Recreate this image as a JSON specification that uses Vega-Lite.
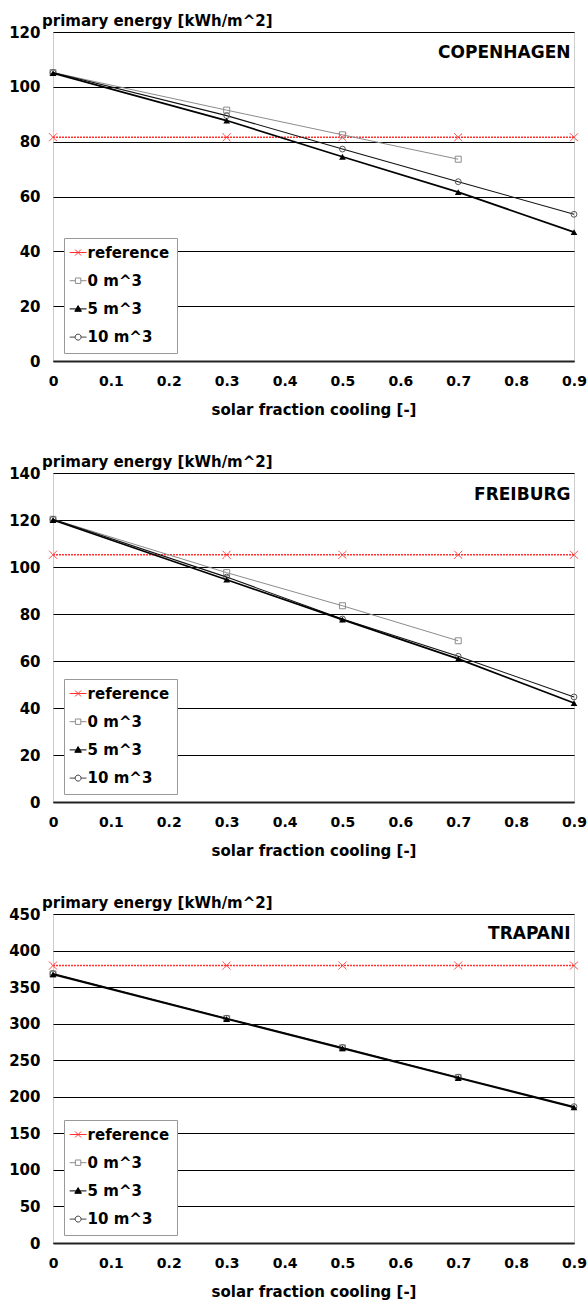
{
  "$schema": "https://vega.github.io/schema/vega-lite/v6.json",
  "autosize": {"type": "pad"},
  "padding": {"left": 8, "top": 12, "right": 0, "bottom": 5},
  "background": "white",
  "bounds": "flush",
  "spacing": 112,
  "datasets": {
    "copenhagen": [
      {"fraction": 0, "energy": 81.6, "series": "reference"},
      {"fraction": 0.3, "energy": 81.6, "series": "reference"},
      {"fraction": 0.5, "energy": 81.6, "series": "reference"},
      {"fraction": 0.7, "energy": 81.6, "series": "reference"},
      {"fraction": 0.9, "energy": 81.6, "series": "reference"},
      {"fraction": 0, "energy": 105.2, "series": "0 m^3"},
      {"fraction": 0.3, "energy": 91.5, "series": "0 m^3"},
      {"fraction": 0.5, "energy": 82.5, "series": "0 m^3"},
      {"fraction": 0.7, "energy": 73.6, "series": "0 m^3"},
      {"fraction": 0, "energy": 105.0, "series": "5 m^3"},
      {"fraction": 0.3, "energy": 87.7, "series": "5 m^3"},
      {"fraction": 0.5, "energy": 74.5, "series": "5 m^3"},
      {"fraction": 0.7, "energy": 61.6, "series": "5 m^3"},
      {"fraction": 0.9, "energy": 47.0, "series": "5 m^3"},
      {"fraction": 0, "energy": 105.2, "series": "10 m^3"},
      {"fraction": 0.3, "energy": 89.5, "series": "10 m^3"},
      {"fraction": 0.5, "energy": 77.3, "series": "10 m^3"},
      {"fraction": 0.7, "energy": 65.4, "series": "10 m^3"},
      {"fraction": 0.9, "energy": 53.5, "series": "10 m^3"}
    ],
    "freiburg": [
      {"fraction": 0, "energy": 105.2, "series": "reference"},
      {"fraction": 0.3, "energy": 105.2, "series": "reference"},
      {"fraction": 0.5, "energy": 105.2, "series": "reference"},
      {"fraction": 0.7, "energy": 105.2, "series": "reference"},
      {"fraction": 0.9, "energy": 105.2, "series": "reference"},
      {"fraction": 0, "energy": 120.3, "series": "0 m^3"},
      {"fraction": 0.3, "energy": 97.6, "series": "0 m^3"},
      {"fraction": 0.5, "energy": 83.5, "series": "0 m^3"},
      {"fraction": 0.7, "energy": 68.6, "series": "0 m^3"},
      {"fraction": 0, "energy": 120.0, "series": "5 m^3"},
      {"fraction": 0.3, "energy": 94.6, "series": "5 m^3"},
      {"fraction": 0.5, "energy": 77.6, "series": "5 m^3"},
      {"fraction": 0.7, "energy": 60.9, "series": "5 m^3"},
      {"fraction": 0.9, "energy": 42.1, "series": "5 m^3"},
      {"fraction": 0, "energy": 120.3, "series": "10 m^3"},
      {"fraction": 0.3, "energy": 95.7, "series": "10 m^3"},
      {"fraction": 0.5, "energy": 77.9, "series": "10 m^3"},
      {"fraction": 0.7, "energy": 62.0, "series": "10 m^3"},
      {"fraction": 0.9, "energy": 44.7, "series": "10 m^3"}
    ],
    "trapani": [
      {"fraction": 0, "energy": 379.5, "series": "reference"},
      {"fraction": 0.3, "energy": 379.5, "series": "reference"},
      {"fraction": 0.5, "energy": 379.5, "series": "reference"},
      {"fraction": 0.7, "energy": 379.5, "series": "reference"},
      {"fraction": 0.9, "energy": 379.5, "series": "reference"},
      {"fraction": 0, "energy": 368.0, "series": "0 m^3"},
      {"fraction": 0.3, "energy": 307.0, "series": "0 m^3"},
      {"fraction": 0.5, "energy": 267.0, "series": "0 m^3"},
      {"fraction": 0.7, "energy": 226.5, "series": "0 m^3"},
      {"fraction": 0, "energy": 367.5, "series": "5 m^3"},
      {"fraction": 0.3, "energy": 306.4, "series": "5 m^3"},
      {"fraction": 0.5, "energy": 266.3, "series": "5 m^3"},
      {"fraction": 0.7, "energy": 225.7, "series": "5 m^3"},
      {"fraction": 0.9, "energy": 185.6, "series": "5 m^3"},
      {"fraction": 0, "energy": 368.5, "series": "10 m^3"},
      {"fraction": 0.3, "energy": 307.5, "series": "10 m^3"},
      {"fraction": 0.5, "energy": 267.3, "series": "10 m^3"},
      {"fraction": 0.7, "energy": 226.7, "series": "10 m^3"},
      {"fraction": 0.9, "energy": 186.5, "series": "10 m^3"}
    ]
  },
  "vconcat": [
    {
      "width": 521, "height": 329,
      "data": {"name": "copenhagen"},
      "encoding": {
        "x": {"field": "fraction", "type": "quantitative", "scale": {"domain": [0, 0.9], "nice": false, "zero": false}, "axis": {"values": [0, 0.1, 0.2, 0.3, 0.4, 0.5, 0.6, 0.7, 0.8, 0.9], "format": "~g", "title": "solar fraction cooling [-]"}},
        "y": {"field": "energy", "type": "quantitative", "scale": {"domain": [0, 120], "nice": false}, "axis": {"values": [0, 20, 40, 60, 80, 100, 120], "title": "primary energy [kWh/m^2]"}}
      },
      "layer": [
        {"transform": [{"filter": "datum.series === 'reference'"}], "mark": {"type": "line", "color": "#ff3030", "strokeWidth": 1.6, "strokeDash": [2, 1], "point": {"shape": "M-1,-1L1,1M-1,1L1,-1", "size": 64, "filled": false, "color": "#ff3030", "strokeWidth": 1, "strokeDash": [1, 0], "opacity": 1}}},
        {"transform": [{"filter": "datum.series === '0 m^3'"}], "mark": {"type": "line", "color": "#8c8c8c", "strokeWidth": 1, "point": {"shape": "square", "size": 36, "filled": false, "color": "#8c8c8c", "strokeWidth": 1, "opacity": 1}}},
        {"transform": [{"filter": "datum.series === '10 m^3'"}], "mark": {"type": "line", "color": "#111111", "strokeWidth": 1.1, "point": {"shape": "circle", "size": 34, "filled": false, "color": "#555555", "strokeWidth": 1, "opacity": 1}}},
        {"transform": [{"filter": "datum.series === '5 m^3'"}], "mark": {"type": "line", "color": "black", "strokeWidth": 1.7, "point": {"shape": "triangle-up", "size": 45, "filled": true, "color": "black", "opacity": 1}}},
        {"transform": [{"filter": "false"}], "mark": {"type": "point", "filled": false, "strokeWidth": 1, "opacity": 1},
          "encoding": {
            "color": {"field": "series", "type": "nominal", "title": null, "scale": {"domain": ["reference", "0 m^3", "5 m^3", "10 m^3"], "range": ["#ff3030", "#8c8c8c", "black", "#444444"]}},
            "shape": {"field": "series", "type": "nominal", "title": null, "scale": {"domain": ["reference", "0 m^3", "5 m^3", "10 m^3"], "range": ["M-2.8,0L2.8,0M-1,-1L1,1M-1,1L1,-1", "M-2.8,0L-0.9,0M0.9,0L2.8,0M-0.9,-0.9L0.9,-0.9L0.9,0.9L-0.9,0.9Z", "M-2.8,0L2.8,0M0,-1.1L1.1,0.8L-1.1,0.8Z", "M-2.8,0L-1,0M1,0L2.8,0M-1,0A1,1,0,1,1,1,0A1,1,0,1,1,-1,0Z"]}},
            "fill": {"field": "series", "type": "nominal", "title": null, "scale": {"domain": ["reference", "0 m^3", "5 m^3", "10 m^3"], "range": ["transparent", "transparent", "black", "transparent"]}}
          }},
        {"transform": [{"filter": "datum.series === 'reference' && datum.fraction === 0.9"}], "mark": {"type": "text", "align": "right", "baseline": "middle", "dx": -3.5, "font": "DejaVu Sans", "fontWeight": "bold", "fontSize": 17, "fill": "black"},
          "encoding": {"y": {"datum": 112.4, "type": "quantitative"}, "text": {"value": "COPENHAGEN"}}}
      ]
    },
    {
      "width": 521, "height": 329,
      "data": {"name": "freiburg"},
      "encoding": {
        "x": {"field": "fraction", "type": "quantitative", "scale": {"domain": [0, 0.9], "nice": false, "zero": false}, "axis": {"values": [0, 0.1, 0.2, 0.3, 0.4, 0.5, 0.6, 0.7, 0.8, 0.9], "format": "~g", "title": "solar fraction cooling [-]"}},
        "y": {"field": "energy", "type": "quantitative", "scale": {"domain": [0, 140], "nice": false}, "axis": {"values": [0, 20, 40, 60, 80, 100, 120, 140], "title": "primary energy [kWh/m^2]"}}
      },
      "layer": [
        {"transform": [{"filter": "datum.series === 'reference'"}], "mark": {"type": "line", "color": "#ff3030", "strokeWidth": 1.6, "strokeDash": [2, 1], "point": {"shape": "M-1,-1L1,1M-1,1L1,-1", "size": 64, "filled": false, "color": "#ff3030", "strokeWidth": 1, "strokeDash": [1, 0], "opacity": 1}}},
        {"transform": [{"filter": "datum.series === '0 m^3'"}], "mark": {"type": "line", "color": "#8c8c8c", "strokeWidth": 1, "point": {"shape": "square", "size": 36, "filled": false, "color": "#8c8c8c", "strokeWidth": 1, "opacity": 1}}},
        {"transform": [{"filter": "datum.series === '10 m^3'"}], "mark": {"type": "line", "color": "#111111", "strokeWidth": 1.1, "point": {"shape": "circle", "size": 34, "filled": false, "color": "#555555", "strokeWidth": 1, "opacity": 1}}},
        {"transform": [{"filter": "datum.series === '5 m^3'"}], "mark": {"type": "line", "color": "black", "strokeWidth": 1.7, "point": {"shape": "triangle-up", "size": 45, "filled": true, "color": "black", "opacity": 1}}},
        {"transform": [{"filter": "false"}], "mark": {"type": "point", "filled": false, "strokeWidth": 1, "opacity": 1},
          "encoding": {
            "color": {"field": "series", "type": "nominal", "title": null, "scale": {"domain": ["reference", "0 m^3", "5 m^3", "10 m^3"], "range": ["#ff3030", "#8c8c8c", "black", "#444444"]}},
            "shape": {"field": "series", "type": "nominal", "title": null, "scale": {"domain": ["reference", "0 m^3", "5 m^3", "10 m^3"], "range": ["M-2.8,0L2.8,0M-1,-1L1,1M-1,1L1,-1", "M-2.8,0L-0.9,0M0.9,0L2.8,0M-0.9,-0.9L0.9,-0.9L0.9,0.9L-0.9,0.9Z", "M-2.8,0L2.8,0M0,-1.1L1.1,0.8L-1.1,0.8Z", "M-2.8,0L-1,0M1,0L2.8,0M-1,0A1,1,0,1,1,1,0A1,1,0,1,1,-1,0Z"]}},
            "fill": {"field": "series", "type": "nominal", "title": null, "scale": {"domain": ["reference", "0 m^3", "5 m^3", "10 m^3"], "range": ["transparent", "transparent", "black", "transparent"]}}
          }},
        {"transform": [{"filter": "datum.series === 'reference' && datum.fraction === 0.9"}], "mark": {"type": "text", "align": "right", "baseline": "middle", "dx": -3.5, "font": "DejaVu Sans", "fontWeight": "bold", "fontSize": 17, "fill": "black"},
          "encoding": {"y": {"datum": 130.8, "type": "quantitative"}, "text": {"value": "FREIBURG"}}}
      ]
    },
    {
      "width": 521, "height": 329,
      "data": {"name": "trapani"},
      "encoding": {
        "x": {"field": "fraction", "type": "quantitative", "scale": {"domain": [0, 0.9], "nice": false, "zero": false}, "axis": {"values": [0, 0.1, 0.2, 0.3, 0.4, 0.5, 0.6, 0.7, 0.8, 0.9], "format": "~g", "title": "solar fraction cooling [-]"}},
        "y": {"field": "energy", "type": "quantitative", "scale": {"domain": [0, 450], "nice": false}, "axis": {"values": [0, 50, 100, 150, 200, 250, 300, 350, 400, 450], "title": "primary energy [kWh/m^2]"}}
      },
      "layer": [
        {"transform": [{"filter": "datum.series === 'reference'"}], "mark": {"type": "line", "color": "#ff3030", "strokeWidth": 1.6, "strokeDash": [2, 1], "point": {"shape": "M-1,-1L1,1M-1,1L1,-1", "size": 64, "filled": false, "color": "#ff3030", "strokeWidth": 1, "strokeDash": [1, 0], "opacity": 1}}},
        {"transform": [{"filter": "datum.series === '0 m^3'"}], "mark": {"type": "line", "color": "#8c8c8c", "strokeWidth": 1, "point": {"shape": "square", "size": 36, "filled": false, "color": "#8c8c8c", "strokeWidth": 1, "opacity": 1}}},
        {"transform": [{"filter": "datum.series === '10 m^3'"}], "mark": {"type": "line", "color": "#111111", "strokeWidth": 1.1, "point": {"shape": "circle", "size": 34, "filled": false, "color": "#555555", "strokeWidth": 1, "opacity": 1}}},
        {"transform": [{"filter": "datum.series === '5 m^3'"}], "mark": {"type": "line", "color": "black", "strokeWidth": 1.7, "point": {"shape": "triangle-up", "size": 45, "filled": true, "color": "black", "opacity": 1}}},
        {"transform": [{"filter": "false"}], "mark": {"type": "point", "filled": false, "strokeWidth": 1, "opacity": 1},
          "encoding": {
            "color": {"field": "series", "type": "nominal", "title": null, "scale": {"domain": ["reference", "0 m^3", "5 m^3", "10 m^3"], "range": ["#ff3030", "#8c8c8c", "black", "#444444"]}},
            "shape": {"field": "series", "type": "nominal", "title": null, "scale": {"domain": ["reference", "0 m^3", "5 m^3", "10 m^3"], "range": ["M-2.8,0L2.8,0M-1,-1L1,1M-1,1L1,-1", "M-2.8,0L-0.9,0M0.9,0L2.8,0M-0.9,-0.9L0.9,-0.9L0.9,0.9L-0.9,0.9Z", "M-2.8,0L2.8,0M0,-1.1L1.1,0.8L-1.1,0.8Z", "M-2.8,0L-1,0M1,0L2.8,0M-1,0A1,1,0,1,1,1,0A1,1,0,1,1,-1,0Z"]}},
            "fill": {"field": "series", "type": "nominal", "title": null, "scale": {"domain": ["reference", "0 m^3", "5 m^3", "10 m^3"], "range": ["transparent", "transparent", "black", "transparent"]}}
          }},
        {"transform": [{"filter": "datum.series === 'reference' && datum.fraction === 0.9"}], "mark": {"type": "text", "align": "right", "baseline": "middle", "dx": -3.5, "font": "DejaVu Sans", "fontWeight": "bold", "fontSize": 17, "fill": "black"},
          "encoding": {"y": {"datum": 422.6, "type": "quantitative"}, "text": {"value": "TRAPANI"}}}
      ]
    }
  ],
  "resolve": {
    "scale": {"x": "independent", "y": "independent", "color": "independent", "shape": "independent", "fill": "independent"},
    "axis": {"x": "independent", "y": "independent"},
    "legend": {"color": "independent", "shape": "independent", "fill": "independent"}
  },
  "config": {
    "font": "DejaVu Sans",
    "view": {"stroke": "#9a9a9a", "strokeDash": [1, 1], "strokeWidth": 1},
    "axis": {"labelFont": "DejaVu Sans", "labelFontWeight": "bold", "labelColor": "black", "titleFont": "DejaVu Sans", "titleFontWeight": "bold", "titleColor": "black", "ticks": false, "domain": false, "grid": false, "labelOverlap": false},
    "axisX": {"domain": true, "domainColor": "#222222", "domainWidth": 2, "labelFontSize": 14, "labelPadding": 13, "titleFontSize": 15, "titlePadding": 14, "labelFlush": false},
    "axisY": {"grid": true, "gridColor": "black", "gridWidth": 1, "labelFontSize": 15, "labelPadding": 13, "titleFontSize": 15, "titleAngle": 0, "titleAlign": "left", "titleBaseline": "alphabetic", "titleX": -11.5, "titleY": -7, "labelFlush": false},
    "legend": {"orient": "none", "legendX": 11, "legendY": 206, "padding": 7, "strokeColor": "#999999", "fillColor": "white", "labelFont": "DejaVu Sans", "labelFontWeight": "bold", "labelFontSize": 15, "labelColor": "black", "labelLimit": 300, "symbolSize": 36, "symbolStrokeWidth": 1, "symbolOffset": -0.4, "labelOffset": 2, "rowPadding": 12.2}
  }
}
